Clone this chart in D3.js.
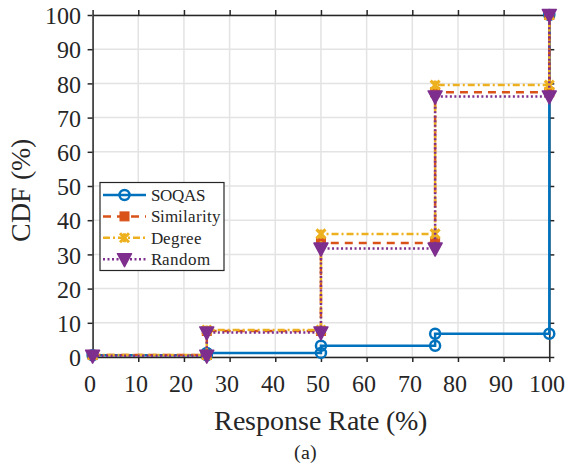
<!DOCTYPE html>
<html>
<head>
<meta charset="utf-8">
<script src="https://cdn.jsdelivr.net/npm/d3@7"></script>
<style>
  @font-face {
    font-family: "ChartSerif";
    src: local("Liberation Serif"), local("LiberationSerif"), local("Liberation Serif Regular"), local("LiberationSerif-Regular");
    font-display: swap;
  }
  html, body { margin: 0; padding: 0; background: #fff; }
  svg { display: block; }
  svg text { font-family: "ChartSerif", "Liberation Serif", "Times New Roman", serif; fill: #262626; }
</style>
</head>
<body>
<svg id="chart" width="569" height="470"></svg>
<script>
// Response-rate breakpoints (%) where each CDF steps up
const rates = [0, 25, 50, 75, 100];
// CDF level (%) reached at each breakpoint, per scheme
const soqas      = [0.5, 1.2, 3.3, 6.8, 100];
const similarity = [0.6, 7.6, 33.3, 77.4, 100];
const degree     = [0.6, 7.9, 36.0, 79.5, 100];
const random     = [0.4, 7.2, 31.7, 76.2, 100];
const seriesNames = ["SOQAS", "Similarity", "Degree", "Random"];
const xTicks = [0, 10, 20, 30, 40, 50, 60, 70, 80, 90, 100];
const yTicks = [0, 10, 20, 30, 40, 50, 60, 70, 80, 90, 100];

(function () {
if (document.fonts && document.fonts.load) {
  document.fonts.load('24px "ChartSerif"').catch(() => {});
}
const svg = d3.select("#chart");
const pLeft = 92.6, pRight = 549.3, pTop = 15, pBottom = 357;

const x = d3.scaleLinear().domain([0, 100]).range([pLeft, pRight]);
const y = d3.scaleLinear().domain([0, 100]).range([pBottom, pTop]);

// grid
const grid = svg.append("g").attr("stroke", "#e3e3e3").attr("stroke-width", 1.5);
grid.selectAll(".gx").data(xTicks).join("line").attr("class", "gx")
  .attr("x1", d => x(d)).attr("x2", d => x(d)).attr("y1", pTop).attr("y2", pBottom);
grid.selectAll(".gy").data(yTicks).join("line").attr("class", "gy")
  .attr("y1", d => y(d)).attr("y2", d => y(d)).attr("x1", pLeft).attr("x2", pRight);

// axes (ticks point outward on all four sides)
const tickLen = 5;
const axB = svg.append("g").attr("transform", `translate(0,${pBottom})`)
  .call(d3.axisBottom(x).tickValues(xTicks).tickSizeInner(tickLen).tickSizeOuter(0).tickPadding(13));
const axT = svg.append("g").attr("transform", `translate(0,${pTop})`)
  .call(d3.axisTop(x).tickValues(xTicks).tickSizeInner(tickLen).tickSizeOuter(0).tickFormat(""));
const axL = svg.append("g").attr("transform", `translate(${pLeft},0)`)
  .call(d3.axisLeft(y).tickValues(yTicks).tickSizeInner(tickLen).tickSizeOuter(0).tickPadding(7));
const axR = svg.append("g").attr("transform", `translate(${pRight},0)`)
  .call(d3.axisRight(y).tickValues(yTicks).tickSizeInner(tickLen).tickSizeOuter(0).tickFormat(""));
[axB, axT, axL, axR].forEach(a => {
  a.attr("font-family", null);
  a.select(".domain").attr("stroke", "#262626").attr("stroke-width", 1.5);
  a.selectAll(".tick line").attr("stroke", "#262626").attr("stroke-width", 1.5);
  a.selectAll(".tick text").attr("font-size", 24);
});
axB.selectAll(".tick text").attr("dx", -3);
axL.selectAll(".tick text").attr("dy", "0.36em");

// series
const colors = ["#0072BD", "#D95319", "#EDB120", "#7E2F8E"];
const dashes = [null, "8,6", "7,3,2,3", "2,2.5"];
const markers = ["circle", "square", "cross", "tri"];
const allSeries = [soqas, similarity, degree, random];

function stepPoints(levels) {
  const pts = [];
  for (let i = 0; i < rates.length - 1; i++) {
    pts.push([rates[i], levels[i]]);
    pts.push([rates[i + 1], levels[i]]);
  }
  pts.push([rates[rates.length - 1], levels[levels.length - 1]]);
  return pts;
}

function drawMarker(g, kind, cx, cy, color) {
  if (kind === "circle") {
    g.append("circle").attr("cx", cx).attr("cy", cy).attr("r", 5)
      .attr("fill", "none").attr("stroke", color).attr("stroke-width", 2.5);
  } else if (kind === "square") {
    g.append("rect").attr("x", cx - 4.5).attr("y", cy - 4.5).attr("width", 9).attr("height", 9)
      .attr("fill", color).attr("stroke", color).attr("stroke-width", 1);
  } else if (kind === "cross") {
    const s = 4.5;
    g.append("path").attr("d", `M${cx - s},${cy - s}L${cx + s},${cy + s}M${cx - s},${cy + s}L${cx + s},${cy - s}M${cx},${cy - s}L${cx},${cy + s}`)
      .attr("fill", "none").attr("stroke", color).attr("stroke-width", 3);
  } else {
    const w = 7, h = 6.5;
    g.append("path").attr("d", `M${cx - w},${cy - h + 1}L${cx + w},${cy - h + 1}L${cx},${cy + h + 1}Z`)
      .attr("fill", color).attr("stroke", color).attr("stroke-width", 1.5).attr("stroke-linejoin", "round");
  }
}

const line = d3.line().x(d => x(d[0])).y(d => y(d[1]));
allSeries.forEach((levels, i) => {
  const g = svg.append("g");
  const pts = stepPoints(levels);
  g.append("path").datum(pts).attr("d", line)
    .attr("fill", "none").attr("stroke", colors[i]).attr("stroke-width", 2.5)
    .attr("stroke-dasharray", dashes[i]);
  pts.forEach(p => drawMarker(g, markers[i], x(p[0]), y(p[1]), colors[i]));
});

// legend
const lg = svg.append("g");
lg.append("rect").attr("x", 100).attr("y", 182.5).attr("width", 124).attr("height", 88)
  .attr("fill", "#fff").attr("stroke", "#262626").attr("stroke-width", 1.2);
seriesNames.forEach((name, i) => {
  const cy = 195 + i * 21.4;
  lg.append("line").attr("x1", 103).attr("x2", 146).attr("y1", cy).attr("y2", cy)
    .attr("stroke", colors[i]).attr("stroke-width", 2.5).attr("stroke-dasharray", dashes[i]);
  drawMarker(lg, markers[i], 124.5, cy, colors[i]);
  lg.append("text").attr("x", 150.5).attr("y", cy).attr("dy", "0.35em")
    .attr("font-size", 17).text(name);
});

// axis titles and caption
svg.append("text").attr("x", 320).attr("y", 430).attr("text-anchor", "middle")
  .attr("font-size", 28).text("Response Rate (%)");
svg.append("text").attr("transform", "translate(30,190) rotate(-90)").attr("text-anchor", "middle")
  .attr("font-size", 28).text("CDF (%)");
svg.append("text").attr("x", 305).attr("y", 459).attr("text-anchor", "middle")
  .attr("font-size", 20).text("(a)");
})();
</script>
</body>
</html>
